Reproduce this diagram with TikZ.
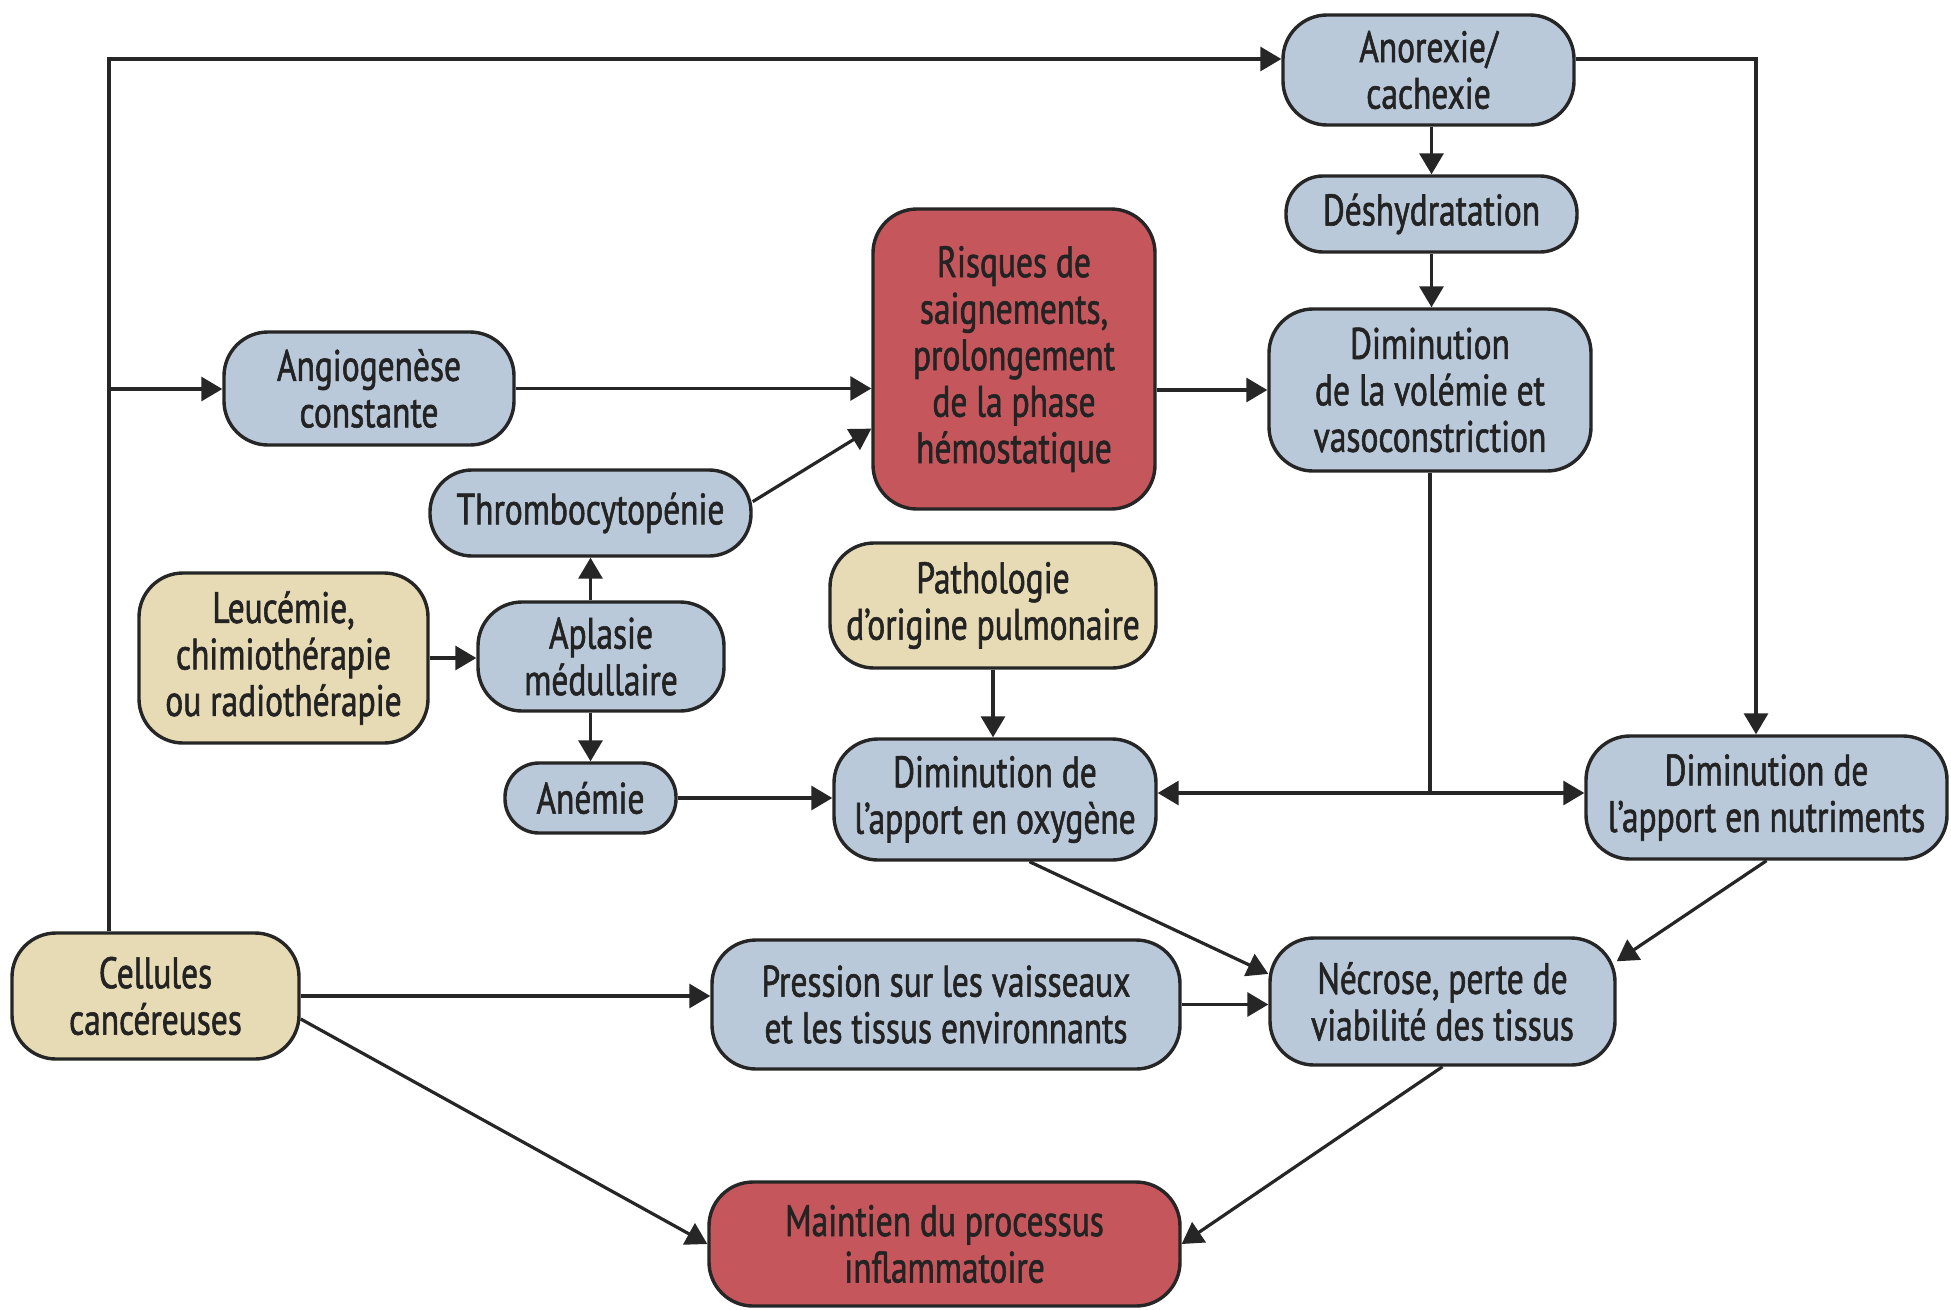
\documentclass[tikz,border=0pt]{standalone}
\usepackage{fontspec}
\setmainfont{PT Sans}[FakeStretch=0.76,FakeBold=1.3]
\usetikzlibrary{arrows.meta}
\definecolor{bluebox}{RGB}{185,201,217}
\definecolor{tanbox}{RGB}{230,219,180}
\definecolor{redbox}{RGB}{197,86,92}
\definecolor{edgecol}{RGB}{38,38,38}
\definecolor{txtcol}{RGB}{35,35,35}
\begin{document}
\begin{tikzpicture}[x=1pt,y=-1pt,
  box/.style={draw=edgecol, line width=3.4pt, rounded corners=44pt, align=center,
    inner sep=0pt, font=\fontsize{44}{46.5}\selectfont, text=txtcol},
  bl/.style={box, fill=bluebox},
  tn/.style={box, fill=tanbox},
  rd/.style={box, fill=redbox},
  arr/.style={draw=edgecol, line width=3.2pt, -{Triangle[length=21pt,width=24pt]}},
  ln/.style={draw=edgecol, line width=3.2pt}]
\path[use as bounding box, fill=white] (0,0) rectangle (1951,1309);

% nodes
\node[bl, minimum width=291pt, minimum height=110pt] (anor) at (1428.5,70) {Anorexie/\\cachexie};
\node[bl, rounded corners=37pt, minimum width=291pt, minimum height=76pt] (desh) at (1431.5,214) {Déshydratation};
\node[bl, minimum width=322pt, minimum height=162pt] (vol) at (1430,390) {Diminution\\de la volémie et\\vasoconstriction};
\node[rd, minimum width=282pt, minimum height=300pt] (risq) at (1014,359) {Risques de\\saignements,\\prolongement\\de la phase\\hémostatique};
\node[bl, minimum width=290pt, minimum height=113pt] (angio) at (369,388.5) {Angiogenèse\\constante};
\node[bl, rounded corners=42pt, minimum width=321pt, minimum height=86pt] (thromb) at (590.5,513) {Thrombocytopénie};
\node[tn, minimum width=289pt, minimum height=170pt] (leuc) at (283.5,658) {Leucémie,\\chimiothérapie\\ou radiothérapie};
\node[bl, minimum width=246pt, minimum height=109pt] (apl) at (601,656.5) {Aplasie\\médullaire};
\node[bl, rounded corners=34pt, minimum width=171pt, minimum height=70pt] (anem) at (590.5,798) {Anémie};
\node[tn, minimum width=326pt, minimum height=125pt] (patho) at (993,605.5) {Pathologie\\d’origine pulmonaire};
\node[bl, minimum width=322pt, minimum height=121pt] (oxy) at (995,799.5) {Diminution de\\l’apport en oxygène};
\node[bl, minimum width=361pt, minimum height=123pt] (nutr) at (1766.5,797.5) {Diminution de\\l’apport en nutriments};
\node[tn, minimum width=287pt, minimum height=126pt] (cell) at (155.5,996) {Cellules\\cancéreuses};
\node[bl, minimum width=468pt, minimum height=129pt] (press) at (946,1004.5) {Pression sur les vaisseaux\\et les tissus environnants};
\node[bl, minimum width=345pt, minimum height=127pt] (necr) at (1442.5,1001.5) {Nécrose, perte de\\viabilité des tissus};
\node[rd, minimum width=471pt, minimum height=124pt] (maint) at (944.5,1244) {Maintien du processus\\inflammatoire};

% helper coordinates
\coordinate (topL) at (109,59);
\coordinate (midL) at (109,389);
\coordinate (topR) at (1756,59);
\coordinate (junc) at (1430,793);

% connectors
\draw[arr] (cell.north -| topL) -- (topL) -- (anor.west |- topL);
\draw[arr] (midL) -- (angio.west |- midL);
\draw[arr] (anor.east |- topR) -- (topR) -- (nutr.north -| topR);
\draw[arr] (angio.east) -- (risq.west |- angio.east);
\draw[arr] (thromb.4) -- (risq.206);
\draw[arr] (apl.north -| thromb.south) -- (thromb.south);
\draw[arr] (apl.south -| anem.north) -- (anem.north);
\draw[arr] (leuc.east) -- (apl.west |- leuc.east);
\draw[arr] (anem.east) -- (oxy.west |- anem.east);
\draw[arr] (patho.south) -- (oxy.north -| patho.south);
\draw[arr] (risq.east |- vol.west) -- (vol.west);
\draw[arr] (anor.south -| desh.north) -- (desh.north);
\draw[arr] (desh.south) -- (vol.north -| desh.south);
\draw[ln] (vol.south -| junc) -- (junc);
\draw[arr] (junc) -- (oxy.east |- junc);
\draw[arr] (junc) -- (nutr.west |- junc);
\draw[arr] (oxy.-61) -- (necr.171);
\draw[arr] (press.east) -- (necr.west |- press.east);
\draw[arr] (nutr.south) -- (necr.13);
\draw[arr] (cell.east) -- (press.west |- cell.east);
\draw[arr] (cell.-9.5) -- (maint.west);
\draw[arr] (necr.south) -- (maint.east);
\end{tikzpicture}
\end{document}
